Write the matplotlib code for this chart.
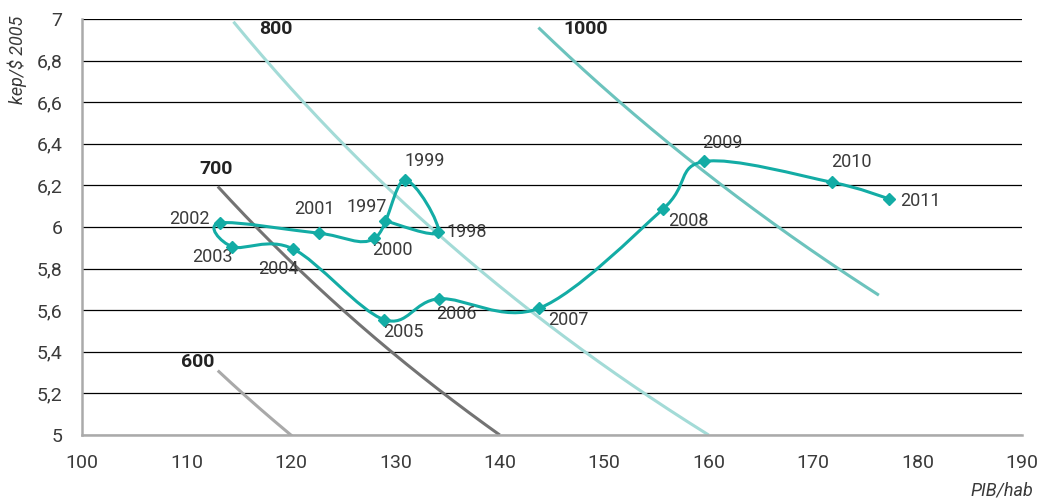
import matplotlib
matplotlib.use("Agg")
import matplotlib.pyplot as plt
import numpy as np
from matplotlib.path import Path
from matplotlib.patches import PathPatch

plt.rcParams['font.family'] = ['Roboto', 'DejaVu Sans']

# data
years = ["1997", "1998", "1999", "2000", "2001", "2002", "2003", "2004",
         "2005", "2006", "2007", "2008", "2009", "2010", "2011"]
pib = [129.0, 134.1, 130.9, 128.0, 122.7, 113.2, 114.4, 120.2,
       128.9, 134.2, 143.8, 155.6, 159.6, 171.8, 177.3]
kep = [6.03, 5.975, 6.225, 5.945, 5.97, 6.02, 5.905, 5.895,
       5.555, 5.655, 5.61, 6.085, 6.315, 6.215, 6.135]

# iso-consumption curves: kep/hab = PIB/hab * kep/$
iso_levels = [600, 700, 800, 1000]
iso_xrange = {600: (113.0, 120.1), 700: (113.0, 140.0),
              800: (114.5, 160.0), 1000: (143.7, 176.3)}
iso_colors = {600: "#a9a9a9", 700: "#737373", 800: "#a3dbd7", 1000: "#6cc3bd"}
iso_label_pos = {600: (111.1, 5.35), 700: (112.8, 6.28),
                 800: (118.6, 6.95), 1000: (148.2, 6.95)}

# label offsets in pixels (dx, dy)
label_off = {"1997": (-18, 14), "1998": (29, 0), "1999": (20, 19),
             "2000": (18, -12), "2001": (-5, 24), "2002": (-31, 4),
             "2003": (-20, -10), "2004": (-15, -20), "2005": (20, -12),
             "2006": (17, -15), "2007": (29, -12), "2008": (26, -12),
             "2009": (18, 18), "2010": (19, 20), "2011": (31, -2)}

teal = "#13aca5"
txt = "#3a3a3a"
fs = 13

fig = plt.figure(figsize=(10.37, 5.03), dpi=100)
ax = fig.add_axes([0.0791, 0.1352, 0.9064, 0.827])
ax.set_xlim(100, 190)
ax.set_ylim(5, 7)
ax.set_xticks(np.arange(100, 191, 10))
ax.set_yticks(np.arange(5, 7.01, 0.2))
ax.set_yticklabels([("%g" % v).replace(".", ",") for v in np.arange(5, 7.01, 0.2).round(1)])
ax.tick_params(length=0, labelsize=fs + 1, colors=txt, pad=14)
ax.tick_params(axis="x", pad=14)
ax.grid(axis="y", color="black", linewidth=0.9)
ax.set_axisbelow(True)
for s in ["top", "right"]:
    ax.spines[s].set_visible(False)
for s in ["left", "bottom"]:
    ax.spines[s].set_color("#aaaaaa")
    ax.spines[s].set_linewidth(1.8)

for lev in iso_levels:
    t = np.linspace(*iso_xrange[lev], 200)
    ax.plot(t, lev / t, color=iso_colors[lev], lw=2.2, solid_capstyle="butt", zorder=2)
    ax.text(*iso_label_pos[lev], str(lev), fontsize=fs + 1, fontweight="bold",
            color="#222222", ha="center", va="center")

# smoothed line (excel-like bezier) computed in display space
fig.canvas.draw()
pts = ax.transData.transform(np.column_stack([pib, kep]))
n = len(pts)
verts = [pts[0]]
codes = [Path.MOVETO]
for i in range(n - 1):
    p0 = pts[max(i - 1, 0)]
    p1 = pts[i]
    p2 = pts[i + 1]
    p3 = pts[min(i + 2, n - 1)]
    c1 = p1 + (p2 - p0) / 6
    c2 = p2 - (p3 - p1) / 6
    verts += [c1, c2, p2]
    codes += [Path.CURVE4] * 3
verts = ax.transData.inverted().transform(np.array(verts))
ax.add_patch(PathPatch(Path(verts, codes), fill=False, edgecolor=teal, lw=2.2, zorder=3))
ax.plot(pib, kep, linestyle="none", marker="D", ms=6.5, color=teal, zorder=4)

for yr, x, y in zip(years, pib, kep):
    dx, dy = label_off[yr]
    ax.annotate(yr, (x, y), xytext=(dx * 0.72, dy * 0.72), textcoords="offset points",
                ha="center", va="center", fontsize=fs, color=txt)

fig.text(0.017, 0.88, "kep/$ 2005", rotation=90, style="italic", fontsize=fs,
         color=txt, ha="center", va="center")
fig.text(0.996, 0.025, "PIB/hab", style="italic", fontsize=fs,
         color=txt, ha="right", va="center")

fig.savefig("out.png", dpi=100)
